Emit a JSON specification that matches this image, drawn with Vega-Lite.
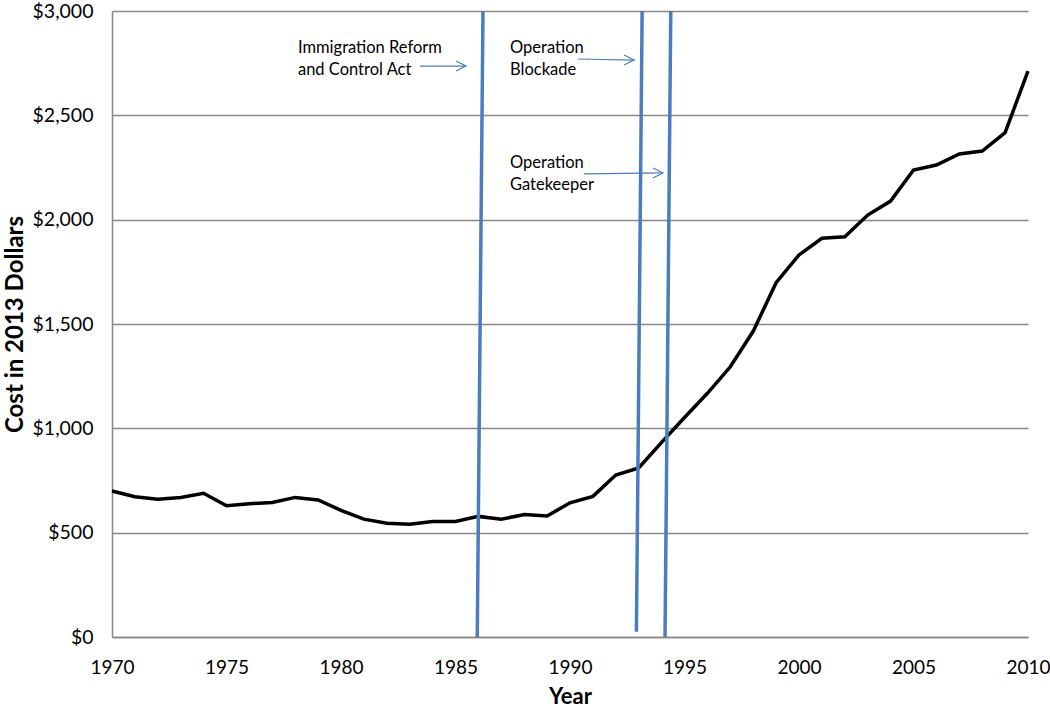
{
  "$schema": "https://vega.github.io/schema/vega-lite/v6.json",
  "width": 916,
  "height": 626,
  "autosize": {"type": "none"},
  "padding": {"left": 112, "top": 11, "right": 22, "bottom": 72},
  "background": "white",
  "config": {
    "view": {"stroke": null},
    "font": "Lato",
    "axis": {"labelFont": "Lato", "titleFont": "Lato", "labelColor": "#000", "titleColor": "#000"}
  },
  "datasets": {
    "cost": [
      {"year": 1970, "cost": 700}, {"year": 1971, "cost": 672}, {"year": 1972, "cost": 660},
      {"year": 1973, "cost": 669}, {"year": 1974, "cost": 689}, {"year": 1975, "cost": 629},
      {"year": 1976, "cost": 639}, {"year": 1977, "cost": 645}, {"year": 1978, "cost": 669},
      {"year": 1979, "cost": 657}, {"year": 1980, "cost": 607}, {"year": 1981, "cost": 565},
      {"year": 1982, "cost": 545}, {"year": 1983, "cost": 540}, {"year": 1984, "cost": 553},
      {"year": 1985, "cost": 554}, {"year": 1986, "cost": 578}, {"year": 1987, "cost": 564},
      {"year": 1988, "cost": 587}, {"year": 1989, "cost": 580}, {"year": 1990, "cost": 643},
      {"year": 1991, "cost": 674}, {"year": 1992, "cost": 776}, {"year": 1993, "cost": 810},
      {"year": 1994, "cost": 933}, {"year": 1995, "cost": 1052}, {"year": 1996, "cost": 1168},
      {"year": 1997, "cost": 1295}, {"year": 1998, "cost": 1465}, {"year": 1999, "cost": 1698},
      {"year": 2000, "cost": 1831}, {"year": 2001, "cost": 1911}, {"year": 2002, "cost": 1918},
      {"year": 2003, "cost": 2022}, {"year": 2004, "cost": 2089}, {"year": 2005, "cost": 2238},
      {"year": 2006, "cost": 2262}, {"year": 2007, "cost": 2315}, {"year": 2008, "cost": 2329},
      {"year": 2009, "cost": 2417}, {"year": 2010, "cost": 2712}
    ],
    "policies": [
      {"name": "IRCA", "xb": 1985.95, "xt": 1986.2, "yb": 0, "yt": 3000},
      {"name": "Blockade", "xb": 1992.9, "xt": 1993.15, "yb": 25, "yt": 3000},
      {"name": "Gatekeeper", "xb": 1994.15, "xt": 1994.4, "yb": 0, "yt": 3000}
    ],
    "labels": [
      {"text": "Immigration Reform", "x": 1978.12, "y": 2823},
      {"text": "and Control Act", "x": 1978.12, "y": 2717},
      {"text": "Operation", "x": 1987.38, "y": 2823},
      {"text": "Blockade", "x": 1987.38, "y": 2717},
      {"text": "Operation", "x": 1987.38, "y": 2271},
      {"text": "Gatekeeper", "x": 1987.38, "y": 2166}
    ],
    "arrows": [
      {"x1": 1983.45, "y1": 2736, "x2": 1985.46, "y2": 2736},
      {"x1": 1990.35, "y1": 2770, "x2": 1992.8, "y2": 2765},
      {"x1": 1990.6, "y1": 2219, "x2": 1994.06, "y2": 2224}
    ]
  },
  "layer": [
    {
      "data": {"name": "cost"},
      "mark": {"type": "line", "color": "#000000", "strokeWidth": 3.5, "strokeJoin": "miter"},
      "encoding": {
        "x": {
          "field": "year", "type": "quantitative",
          "scale": {"domain": [1970, 2010], "nice": false, "zero": false},
          "axis": {
            "title": "Year", "titleFontSize": 22, "titleFontWeight": "bold", "titlePadding": 9,
            "values": [1970, 1975, 1980, 1985, 1990, 1995, 2000, 2005, 2010],
            "format": "d", "labelFontSize": 19, "labelPadding": 21, "ticks": false,
            "grid": false, "domainColor": "#888888", "domainWidth": 1.5, "labelFlush": false
          }
        },
        "y": {
          "field": "cost", "type": "quantitative",
          "scale": {"domain": [0, 3000], "nice": false},
          "axis": {
            "title": "Cost in 2013 Dollars", "titleFontSize": 24, "titleFontWeight": "bold", "titlePadding": 5,
            "values": [0, 500, 1000, 1500, 2000, 2500, 3000],
            "format": "$,.0f", "labelFontSize": 19.5, "labelPadding": 19, "ticks": false,
            "grid": true, "gridColor": "#888888", "gridWidth": 1.5,
            "domainColor": "#888888", "domainWidth": 1.5
          }
        }
      }
    },
    {
      "data": {"name": "policies"},
      "mark": {"type": "rule", "color": "#4a7ebb", "strokeWidth": 3.5},
      "encoding": {
        "x": {"field": "xb", "type": "quantitative"},
        "x2": {"field": "xt"},
        "y": {"field": "yb", "type": "quantitative"},
        "y2": {"field": "yt"}
      }
    },
    {
      "data": {"name": "labels"},
      "mark": {"type": "text", "align": "left", "baseline": "middle", "fontSize": 16.5, "font": "Lato", "color": "#000"},
      "encoding": {
        "x": {"field": "x", "type": "quantitative"},
        "y": {"field": "y", "type": "quantitative"},
        "text": {"field": "text"}
      }
    },
    {
      "data": {"name": "arrows"},
      "mark": {"type": "rule", "color": "#4a7ebb", "strokeWidth": 1.2},
      "encoding": {
        "x": {"field": "x1", "type": "quantitative"},
        "x2": {"field": "x2"},
        "y": {"field": "y1", "type": "quantitative"},
        "y2": {"field": "y2"}
      }
    },
    {
      "data": {"name": "arrows"},
      "mark": {"type": "point", "shape": "M-2,-1L0,0L-2,1", "filled": false, "color": "#4a7ebb", "strokeWidth": 1.2, "size": 100, "opacity": 1},
      "encoding": {
        "x": {"field": "x2", "type": "quantitative"},
        "y": {"field": "y2", "type": "quantitative"}
      }
    }
  ]
}
